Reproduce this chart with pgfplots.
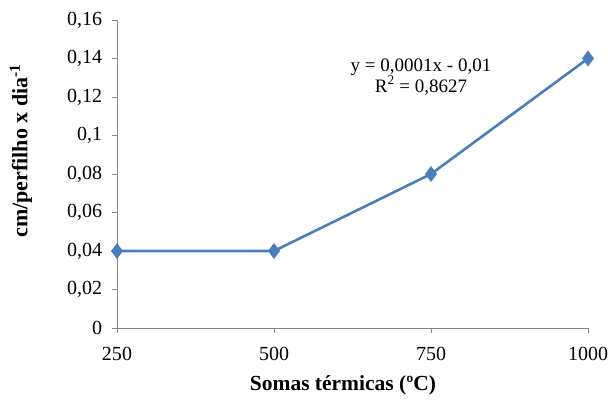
\documentclass[border=0pt]{standalone}
\usepackage{fontspec}
\setmainfont{Liberation Serif}
\usepackage{pgfplots}
\pgfplotsset{compat=1.18}
\definecolor{xlblue}{HTML}{4A7EBB}
\definecolor{axgray}{HTML}{868686}
\begin{document}
\fontsize{20bp}{24bp}\selectfont
\begin{tikzpicture}[x=1bp,y=1bp]
\useasboundingbox (-117,-75) rectangle (491,328);
\begin{axis}[
  at={(0,0)}, anchor=south west,
  scale only axis, width=471bp, height=308bp,
  xmin=0, xmax=3, ymin=0, ymax=0.16,
  xtick={0,1,2,3}, xticklabels={250,500,750,1000},
  ytick={0,0.02,0.04,0.06,0.08,0.1,0.12,0.14,0.16},
  yticklabels={0,{0,02},{0,04},{0,06},{0,08},{0,1},{0,12},{0,14},{0,16}},
  axis x line*=bottom, axis y line*=left,
  axis line style={axgray, line width=0.75pt, -},
  tick style={axgray, line width=0.75pt},
  tick align=outside, major tick length=5bp,
  xtick pos=bottom, ytick pos=left,
  x tick label style={font=\fontsize{20bp}{24bp}\selectfont, yshift=-7bp},
  y tick label style={font=\fontsize{20bp}{24bp}\selectfont, xshift=-3bp},
  clip=false,
]
\addplot[xlblue, line width=2.6pt, mark=diamond*, mark size=7.5bp, mark options={fill=xlblue, line width=0.5pt}]
  coordinates {(0,0.04) (1,0.04) (2,0.08) (3,0.14)};
\end{axis}
\node[font=\fontsize{21.5bp}{25bp}\selectfont\bfseries] at (226,-57) {Somas térmicas (ºC)};
\node[font=\fontsize{22bp}{26bp}\selectfont\bfseries, rotate=90] at (-96,177) {cm/perfilho x dia\textsuperscript{-1}};
\node[font=\fontsize{19bp}{22bp}\selectfont, align=center, inner sep=0pt] at (304,251) {y = 0,0001x\ - 0,01\\[-1bp]R\textsuperscript{2} = 0,8627};
\end{tikzpicture}
\end{document}
